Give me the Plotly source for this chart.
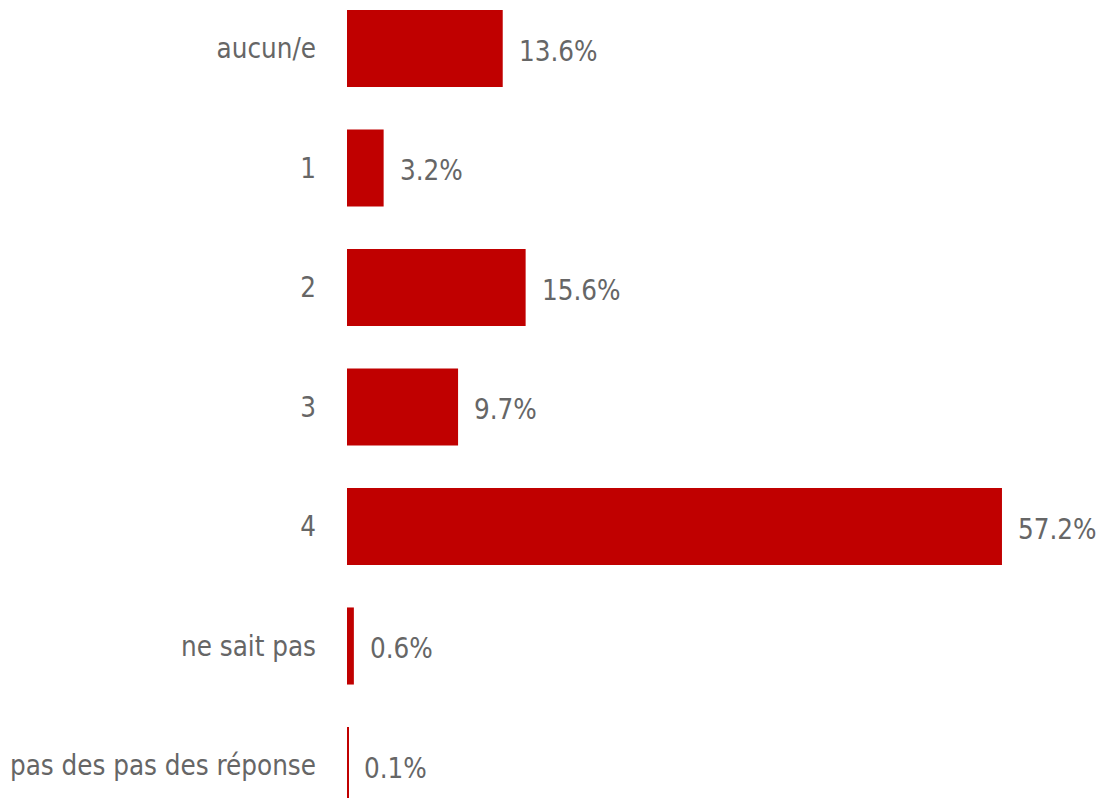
import plotly.graph_objects as go

categories = ["aucun/e", "1", "2", "3", "4", "ne sait pas", "pas des pas des réponse"]
values = [13.6, 3.2, 15.6, 9.7, 57.2, 0.6, 0.1]
labels = ["13.6%", "3.2%", "15.6%", "9.7%", "57.2%", "0.6%", "0.1%"]

bar_color = "#C00000"
text_color = "#666666"
font_family = "DejaVu Sans Condensed, DejaVu Sans"
font_size = 27.5

fig = go.Figure()
fig.add_trace(go.Bar(
    x=values, y=categories, orientation="h",
    marker=dict(color=bar_color, line=dict(width=0)),
    width=0.645, hoverinfo="skip",
))

for c, v, t in zip(categories, values, labels):
    fig.add_annotation(x=v, y=c, text=t, showarrow=False, xanchor="left",
                       xshift=14, yshift=-2,
                       font=dict(family=font_family, size=font_size, color=text_color))

fig.update_layout(
    width=1100, height=790,
    margin=dict(l=339, r=0, t=0, b=0, autoexpand=False),
    paper_bgcolor="white", plot_bgcolor="white",
    showlegend=False,
    font=dict(family=font_family, size=font_size, color=text_color),
)
fig.update_xaxes(range=[0, 66.46], visible=False, showgrid=False, automargin=False)
fig.update_yaxes(type="category", categoryorder="array", categoryarray=categories,
                 range=[6.272, -0.339], showgrid=False, showline=False, ticks="",
                 ticklabelstandoff=30, automargin=False,
                 tickfont=dict(family=font_family, size=font_size, color=text_color))

fig.write_html("out.html")
